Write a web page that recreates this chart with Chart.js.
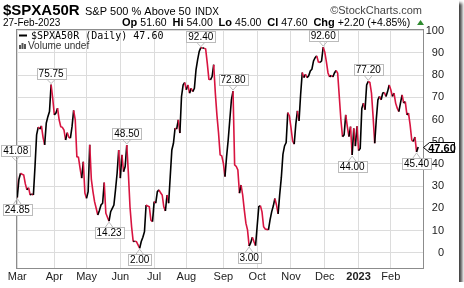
<!DOCTYPE html>
<html>
<head>
<meta charset="utf-8">
<script src="https://cdn.jsdelivr.net/npm/chart.js@4.4.0/dist/chart.umd.min.js"></script>
<style>
  html, body { margin: 0; padding: 0; background: #fff; }
  #wrap { width: 459px; height: 282px; background: #fff; box-shadow: 3px 3px 3px rgba(0,0,0,0.75); }
  canvas { display: block; }
</style>
</head>
<body>
<div id="wrap"><canvas id="chart" width="459" height="282"></canvas></div>
<script>
// month starts as trading-day index (0 = 1 Mar 2022)
const monthStarts = [0, 23, 43, 64, 85, 105, 128, 149, 170, 191, 212, 232];
const monthLabels = ['Mar', 'Apr', 'May', 'Jun', 'Jul', 'Aug', 'Sep', 'Oct', 'Nov', 'Dec', '2023', 'Feb'];
const yTickValues = [0, 10, 20, 30, 40, 50, 60, 70, 80, 90, 100];

// daily values, first one is the day before 1 Mar
const firstDay = -1;
const pctAbove50 = [
  41.08, 24.85, 33.0, 35.8, 35.3, 35.0, 31.0, 28.3, 29.3, 26.0, 26.5,
  26.0, 38.8, 53.1, 56.6, 55.7, 57.1, 52.0, 48.6, 58.4, 61.3,
  63.6, 75.75, 69.6, 62.1, 62.9, 65.1, 59.9, 56.8, 56.5, 55.3,
  50.8, 54.1, 52.0, 51.6, 56.8, 64.1, 59.9, 43.3, 43.0, 38.0,
  33.6, 41.0, 26.8, 24.5, 27.5, 48.6, 33.0, 27.5, 23.0, 20.0,
  17.0, 19.0, 21.5, 22.3, 31.6, 17.8, 16.0, 14.23, 18.5, 20.0,
  21.5, 28.3, 35.8, 46.3, 33.6, 44.1, 36.5, 38.8, 48.5, 35.8,
  20.7, 11.7, 5.0, 5.2, 5.0, 3.5, 2.0, 5.0, 7.0, 9.5,
  21.5, 21.0, 20.7, 14.7, 14.0, 23.0, 22.3, 27.5, 28.3, 27.0,
  26.0, 20.7, 18.8, 26.0, 22.3, 34.3, 46.3, 49.3, 56.1, 55.7,
  59.9, 53.9, 70.4, 75.6, 76.7, 73.4, 75.6, 71.9, 74.1, 72.6,
  74.1, 82.4, 86.9, 90.7, 92.4, 92.2, 92.2, 91.8, 85.4, 78.2,
  77.9, 79.4, 84.7, 72.0, 62.0, 54.0, 44.1, 43.6, 40.3, 34.3,
  43.3, 50.8, 59.9, 68.9, 72.8, 39.6, 38.9, 37.3, 26.8, 30.5,
  26.0, 19.3, 13.3, 10.3, 3.0, 4.5, 7.0, 5.0, 3.2, 12.0,
  20.7, 21.2, 18.4, 11.7, 10.7, 10.5, 10.3, 14.8, 18.4, 21.0,
  24.4, 21.5, 17.5, 26.3, 33.8, 44.3, 48.1, 49.6, 63.1, 61.6,
  56.4, 50.4, 48.9, 57.9, 63.9, 59.4, 71.4, 81.2, 78.9, 80.4,
  78.9, 79.7, 81.9, 82.7, 86.4, 87.9, 88.7, 86.0, 85.7, 86.4,
  92.6, 90.4, 86.0, 81.0, 79.2, 79.9, 79.2, 81.0, 82.1, 80.9,
  70.4, 59.9, 52.3, 53.1, 62.1, 56.8, 52.3, 56.8, 44.0, 56.0,
  48.0, 57.0, 46.0, 47.0, 65.0, 67.4, 64.4, 75.6, 77.2, 76.7,
  71.9, 61.3, 49.3, 60.2, 68.9, 70.4, 68.9, 71.9, 72.2, 70.4,
  72.6, 75.6, 73.4, 70.4, 71.9, 67.4, 65.1, 63.6, 67.4, 71.1,
  67.4, 68.1, 62.1, 62.9, 57.6, 50.8, 50.1, 52.1, 45.4, 47.6
];

// days that carry a high / low value tag
const markDays = [-1, 0, 21, 57, 68, 76, 114, 134, 144, 190, 208, 218, 248];
const markIsHigh = [true, false, true, false, true, false, true, true, false, true, false, true, false];

const quoteParts = [['Op', '51.60'], ['Hi', '54.00'], ['Lo', '45.00'], ['Cl', '47.60'], ['Chg', '+2.20 (+4.85%)']];

const RED = '#d81440';
const SANS = '"Liberation Sans", Arial, sans-serif';

const points = pctAbove50.map((v, i) => ({ x: firstDay + i, y: v }));

const decor = {
  id: 'decor',
  afterDraw(chart) {
    const ctx = chart.ctx;
    const a = chart.chartArea;
    const xs = chart.scales.x, ys = chart.scales.y;
    ctx.save();

    // plot frame
    ctx.strokeStyle = '#8c8c8c';
    ctx.lineWidth = 1;
    ctx.strokeRect(Math.round(a.left) + 0.5, Math.round(a.top) + 0.5, Math.round(a.right - a.left), Math.round(a.bottom - a.top));

    // header
    ctx.fillStyle = '#000';
    ctx.textBaseline = 'alphabetic';
    ctx.textAlign = 'left';
    ctx.font = 'bold 15px ' + SANS;
    ctx.fillText('$SPXA50R', 3, 15);
    ctx.font = '11px ' + SANS;
    ctx.fillText('S&P 500 % Above 50', 85, 15);
    ctx.font = '10px ' + SANS;
    ctx.fillText('INDX', 195, 15);
    ctx.fillStyle = '#444';
    ctx.font = '11px ' + SANS;
    ctx.textAlign = 'right';
    ctx.fillText('\u00a9StockCharts.com', 422, 14);
    ctx.textAlign = 'left';
    ctx.fillStyle = '#000';
    ctx.font = '10px ' + SANS;
    ctx.fillText('27-Feb-2023', 3, 26);
    let qx = 122;
    quoteParts.forEach(([k, v]) => {
      ctx.font = 'bold 11px ' + SANS;
      ctx.fillText(k, qx, 26);
      qx += ctx.measureText(k + ' ').width;
      ctx.font = '10.5px ' + SANS;
      ctx.fillText(v, qx, 26);
      qx += ctx.measureText(v + '  ').width;
    });
    ctx.fillStyle = '#2e8b2e';
    ctx.beginPath();
    ctx.moveTo(qx + 1, 25); ctx.lineTo(qx + 8, 25); ctx.lineTo(qx + 4.5, 20); ctx.closePath();
    ctx.fill();

    // legend inside plot
    ctx.strokeStyle = '#000';
    ctx.lineWidth = 2;
    ctx.beginPath(); ctx.moveTo(19, 35.5); ctx.lineTo(27, 35.5); ctx.stroke();
    ctx.fillStyle = '#000';
    ctx.font = '10px "DejaVu Sans Mono", monospace';
    ctx.fillText('$SPXA50R (Daily) ' + pctAbove50[pctAbove50.length - 1].toFixed(2), 31, 39);
    ctx.fillStyle = '#555';
    [[19, 4], [21.5, 6], [24, 5]].forEach(([bx, bh]) => ctx.fillRect(bx, 49 - bh, 2, bh));
    ctx.fillStyle = '#333';
    ctx.font = '10px ' + SANS;
    ctx.fillText('Volume undef', 28, 49);

    // high / low tags
    ctx.font = '10px ' + SANS;
    ctx.textAlign = 'center';
    ctx.textBaseline = 'middle';
    markDays.forEach((d, i) => {
      const v = pctAbove50[d - firstDay];
      const px = xs.getPixelForValue(d);
      const py = ys.getPixelForValue(v);
      const txt = v.toFixed(2);
      const w = Math.round(ctx.measureText(txt).width) + 4, h = 11;
      const bx = Math.round(px - w / 2) + 0.5;
      const by = markIsHigh[i] ? Math.round(py - 6 - h) + 0.5 : Math.round(py + 6) + 0.5;
      const edge = markIsHigh[i] ? by + h : by;
      ctx.strokeStyle = '#bbb';
      ctx.lineWidth = 1;
      ctx.beginPath();
      ctx.moveTo(px - 4, edge); ctx.lineTo(px, markIsHigh[i] ? py - 1 : py + 1); ctx.lineTo(px + 4, edge);
      ctx.stroke();
      ctx.fillStyle = '#fff';
      ctx.fillRect(bx, by, w, h);
      ctx.strokeRect(bx, by, w, h);
      ctx.fillStyle = '#000';
      ctx.fillText(txt, px, by + h / 2 + 0.5);
    });

    // last value tag on the right axis
    const last = pctAbove50[pctAbove50.length - 1];
    const ly = Math.round(ys.getPixelForValue(last)) + 0.5;
    const lx = Math.round(a.right) + 0.5;
    ctx.beginPath();
    ctx.moveTo(lx, ly);
    ctx.lineTo(lx + 6, ly - 5); ctx.lineTo(lx + 31, ly - 5);
    ctx.lineTo(lx + 31, ly + 5); ctx.lineTo(lx + 6, ly + 5);
    ctx.closePath();
    ctx.fillStyle = '#fff';
    ctx.fill();
    ctx.strokeStyle = '#000';
    ctx.stroke();
    ctx.fillStyle = '#000';
    ctx.font = 'bold 11px ' + SANS;
    ctx.textAlign = 'center';
    ctx.fillText(last.toFixed(2), lx + 18.5, ly + 1);
    ctx.restore();
  }
};

new Chart(document.getElementById('chart'), {
  type: 'line',
  data: {
    datasets: [{
      data: points,
      borderColor: '#000',
      borderWidth: 1.6,
      pointRadius: 0,
      tension: 0,
      segment: {
        borderColor: c => (c.p1.parsed.y < c.p0.parsed.y ? RED : '#000')
      }
    }]
  },
  options: {
    responsive: false,
    animation: false,
    devicePixelRatio: 1,
    layout: { padding: { left: 16, top: 29, right: 15, bottom: 0 } },
    plugins: { legend: { display: false }, tooltip: { enabled: false } },
    scales: {
      x: {
        type: 'linear',
        min: -0.8,
        max: 252,
        afterBuildTicks: s => { s.ticks = monthStarts.map(v => ({ value: v })); },
        afterFit: s => { s.height = 14; },
        ticks: {
          autoSkip: false,
          maxRotation: 0,
          padding: 2,
          color: '#222',
          font: c => ({ family: SANS, size: 11, weight: c.tick && c.tick.value === 212 ? 'bold' : 'normal' }),
          callback: v => monthLabels[monthStarts.indexOf(v)]
        },
        grid: { color: '#dcdcdc', drawTicks: false },
        border: { display: false }
      },
      y: {
        position: 'right',
        min: -6.9,
        max: 100.8,
        afterBuildTicks: s => { s.ticks = yTickValues.map(v => ({ value: v })); },
        afterFit: s => { s.width = 21; },
        ticks: { crossAlign: 'far', padding: 3, color: '#222', font: { family: SANS, size: 11 } },
        grid: { color: '#dcdcdc', drawTicks: false },
        border: { display: false }
      }
    }
  },
  plugins: [decor]
});
</script>
</body>
</html>
